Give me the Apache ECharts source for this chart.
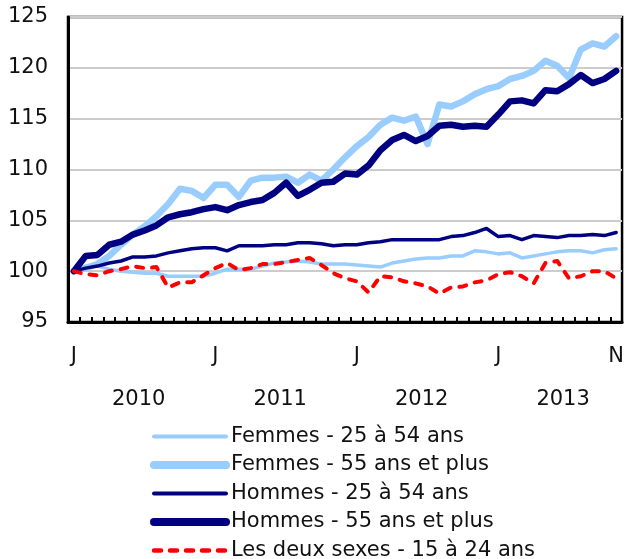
<!DOCTYPE html>
<html><head><meta charset="utf-8">
<script src="https://cdn.jsdelivr.net/npm/echarts@6.0.0/dist/echarts.min.js"></script>
<style>html,body{margin:0;padding:0;background:#fff}#c{width:627px;height:559px}</style>
</head><body><div id="c"></div>
<script>
const categories = [
  'J','F','M','A','M','J','J','A','S','O','N','D',
  'J','F','M','A','M','J','J','A','S','O','N','D',
  'J','F','M','A','M','J','J','A','S','O','N','D',
  'J','F','M','A','M','J','J','A','S','O','N'
];
const monthLabelIdx = [0, 12, 24, 36, 46];
const years = ['2010', '2011', '2012', '2013'];
const yearPos = [5.5, 17.5, 29.5, 41.5];
const yTicks = [95, 100, 105, 110, 115, 120, 125];

const femmes25 = [100,100.5,100.5,100.2,100.0,99.9,99.8,99.8,99.5,99.5,99.5,99.5,
  99.8,100.2,100.2,100.2,100.5,100.8,100.9,101.0,100.9,100.7,100.7,100.7,
  100.6,100.5,100.4,100.8,101.0,101.2,101.3,101.3,101.5,101.5,102.0,101.9,
  101.7,101.8,101.3,101.5,101.7,101.9,102.0,102.0,101.8,102.1,102.2];
const femmes55 = [100,100.3,100.7,101.5,102.6,103.6,104.4,105.4,106.6,108.1,107.9,107.2,
  108.5,108.5,107.3,108.9,109.2,109.2,109.3,108.7,109.5,108.9,110.0,111.2,
  112.3,113.2,114.4,115.1,114.8,115.2,112.5,116.4,116.2,116.7,117.4,117.9,
  118.2,118.9,119.2,119.7,120.7,120.2,119.0,121.8,122.4,122.1,123.1];
const hommes25 = [100,100.3,100.5,100.8,101.0,101.4,101.4,101.5,101.8,102.0,102.2,102.3,
  102.3,102.0,102.5,102.5,102.5,102.6,102.6,102.8,102.8,102.7,102.5,102.6,
  102.6,102.8,102.9,103.1,103.1,103.1,103.1,103.1,103.4,103.5,103.8,104.2,
  103.4,103.5,103.1,103.5,103.4,103.3,103.5,103.5,103.6,103.5,103.8];
const hommes55 = [100,101.5,101.6,102.6,102.9,103.6,104.0,104.5,105.3,105.6,105.8,106.1,
  106.3,106.0,106.5,106.8,107.0,107.7,108.7,107.4,108.0,108.7,108.8,109.6,
  109.5,110.4,111.9,112.9,113.4,112.8,113.3,114.3,114.4,114.2,114.3,114.2,
  115.4,116.7,116.8,116.5,117.8,117.7,118.4,119.3,118.5,118.9,119.7];
const jeunes = [100,99.7,99.6,100.0,100.2,100.5,100.3,100.4,98.4,98.9,98.9,99.6,
  100.3,100.8,100.1,100.3,100.7,100.7,100.9,101.1,101.3,100.6,99.8,99.3,
  99.0,97.9,99.5,99.4,99.0,98.8,98.5,97.8,98.4,98.5,98.9,99.1,
  99.7,99.9,99.5,98.8,100.8,101.0,99.3,99.5,100.0,100.0,99.3];

const names = [
  'Femmes - 25 à 54 ans',
  'Femmes - 55 ans et plus',
  'Hommes - 25 à 54 ans',
  'Hommes - 55 ans et plus',
  'Les deux sexes - 15 à 24 ans'
];
const FONT = 'DejaVu Sans, Verdana, sans-serif';
const LIGHT = '#99ccff', NAVY = '#000080', RED = '#ff0000';

function mkSeries(name, data, color, width, dash) {
  return {
    name, type: 'line', data, xAxisIndex: 0, symbol: 'none', silent: true,
    animation: false,
    lineStyle: { color, width, type: dash || 'solid', cap: 'round', join: 'round' },
    itemStyle: { color }
  };
}
function mkLegend(name, color, width, dash) {
  return {
    name,
    itemStyle: { opacity: 0 },
    lineStyle: { color, width, type: dash || 'solid', cap: 'round' }
  };
}

const chart = echarts.init(document.getElementById('c'), null, { renderer: 'canvas' });
chart.setOption({
  animation: false,
  backgroundColor: '#fff',
  grid: { left: 68, right: 4, top: 17, bottom: 237, show: true, borderColor: '#000', borderWidth: 2.5, backgroundColor: 'transparent' },
  xAxis: [{
    type: 'category', data: categories, boundaryGap: true, position: 'bottom',
    axisLine: { show: true, onZero: false, lineStyle: { color: '#000', width: 3 } },
    axisTick: { show: true, inside: true, length: 5, interval: 0, lineStyle: { color: '#000', width: 2 } },
    axisLabel: {
      interval: (idx) => monthLabelIdx.includes(idx),
      margin: 24, color: '#111', fontFamily: FONT, fontSize: 21
    },
    splitLine: { show: false }
  }, {
    type: 'value', min: -0.5, max: 46.5, position: 'bottom',
    axisLine: { show: false, onZero: false }, axisTick: { show: false }, splitLine: { show: false },
    axisLabel: {
      customValues: yearPos,
      formatter: (v) => { const k = yearPos.indexOf(v); return k >= 0 ? years[k] : ''; },
      margin: 67, color: '#111', fontFamily: FONT, fontSize: 21
    }
  }],
  yAxis: {
    type: 'value', min: yTicks[0], max: yTicks[yTicks.length - 1], interval: 5,
    axisLine: { show: true, onZero: false, lineStyle: { color: '#000', width: 3 } },
    axisTick: { show: false },
    axisLabel: { margin: 20, color: '#111', fontFamily: FONT, fontSize: 21 },
    splitLine: { show: true, lineStyle: { color: '#cccccc', width: 2 } }
  },
  legend: {
    orient: 'vertical', left: 150, top: 426, padding: 0, height: 140,
    itemWidth: 72, itemHeight: 20, itemGap: 7.5,
    selectedMode: false,
    textStyle: { color: '#111', fontFamily: FONT, fontSize: 21, padding: [0, 0, 0, 0] },
    data: [
      mkLegend(names[0], LIGHT, 4),
      mkLegend(names[1], LIGHT, 8),
      mkLegend(names[2], NAVY, 4),
      mkLegend(names[3], NAVY, 8),
      mkLegend(names[4], RED, 4.5, [7, 9])
    ]
  },
  series: [
    mkSeries(names[0], femmes25, LIGHT, 3.5),
    mkSeries(names[1], femmes55, LIGHT, 6.5),
    mkSeries(names[2], hommes25, NAVY, 3.5),
    mkSeries(names[3], hommes55, NAVY, 6.5),
    mkSeries(names[4], jeunes, RED, 4, [7, 9])
  ]
});
</script>
</body></html>
